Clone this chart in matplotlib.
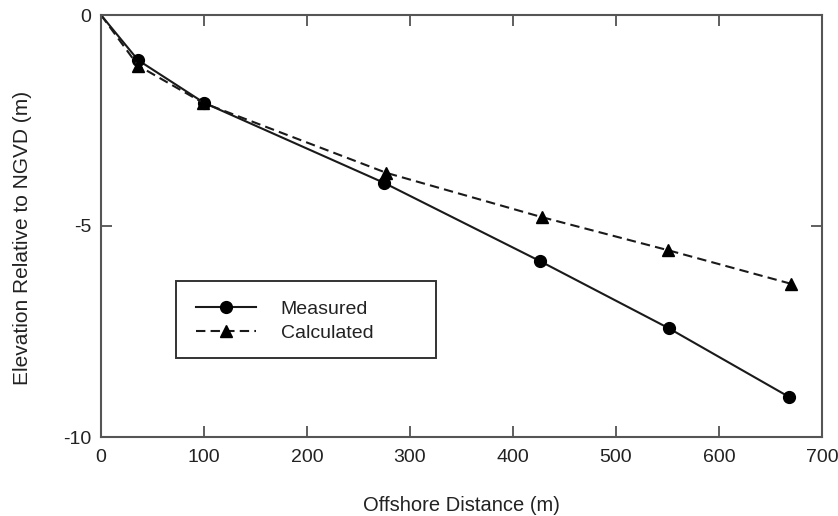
import matplotlib
matplotlib.use("Agg")
import matplotlib.pyplot as plt
from matplotlib.patches import Rectangle

plt.rcParams['font.family'] = ['Liberation Sans', 'DejaVu Sans']
plt.rcParams['axes.unicode_minus'] = False

# Offshore distance (m) and elevation relative to NGVD (m)
measured_x = [0, 36, 100, 275, 426, 551, 668]
measured_y = [0, -1.07, -2.08, -3.98, -5.83, -7.42, -9.05]

calculated_x = [0, 36, 99, 277, 428, 550, 670]
calculated_y = [0, -1.2, -2.08, -3.74, -4.79, -5.57, -6.37]

x_ticks = [0, 100, 200, 300, 400, 500, 600, 700]
y_ticks = [0, -5, -10]

W, H = 838, 516
fig = plt.figure(figsize=(W / 100, H / 100), dpi=100)
left, right, top, bottom = 101, 822, 15, 437
ax = fig.add_axes([left / W, 1 - bottom / H, (right - left) / W, (bottom - top) / H])

ink = '#1a1a1a'
# the shoreline origin is drawn without a marker
ax.plot(measured_x, measured_y, '-', color=ink, lw=1.5, marker='o',
        markersize=8.5, markerfacecolor='black', markeredgecolor='black',
        markevery=slice(1, None), label='Measured')
ax.plot(calculated_x, calculated_y, color=ink, lw=1.5, linestyle=(0, (4.5, 2.5)),
        marker='^', markersize=9, markerfacecolor='black',
        markeredgecolor='black', markevery=slice(1, None), label='Calculated')

ax.set_xlim(0, 700)
ax.set_ylim(-10, 0)
ax.set_xticks(x_ticks)
ax.set_yticks(y_ticks)
ax.tick_params(direction='in', length=8, width=1.2, color='#444444',
               top=True, right=True, labelsize=14, pad=9, labelcolor='#222222')
ax.tick_params(axis='y', pad=7)
for s in ax.spines.values():
    s.set_color('#555555')
    s.set_linewidth(1.5)

ax.set_xlabel('Offshore Distance (m)', fontsize=14.5, labelpad=21, color='#222222')
ax.set_ylabel('Elevation Relative to NGVD (m)', fontsize=15, labelpad=22, color='#222222')
ax.yaxis.label.set_y(0.472)

# legend box outline
def ax_x(px):
    return (px - left) / (right - left)

def ax_y(py):
    return (bottom - py) / (bottom - top)

ax.add_patch(Rectangle((ax_x(176), ax_y(358)), ax_x(436) - ax_x(176),
                       ax_y(281) - ax_y(358), transform=ax.transAxes,
                       fill=True, facecolor='white', edgecolor='#333333',
                       linewidth=1.4, zorder=4))

leg = ax.legend(loc='center left', bbox_to_anchor=(ax_x(196), ax_y(321)),
                fontsize=14, frameon=False, handlelength=3.1, borderpad=0,
                labelspacing=0.35, handletextpad=1.25, borderaxespad=0)
leg.set_zorder(5)
for t in leg.get_texts():
    t.set_color('#222222')

fig.savefig('out.png', dpi=100)
